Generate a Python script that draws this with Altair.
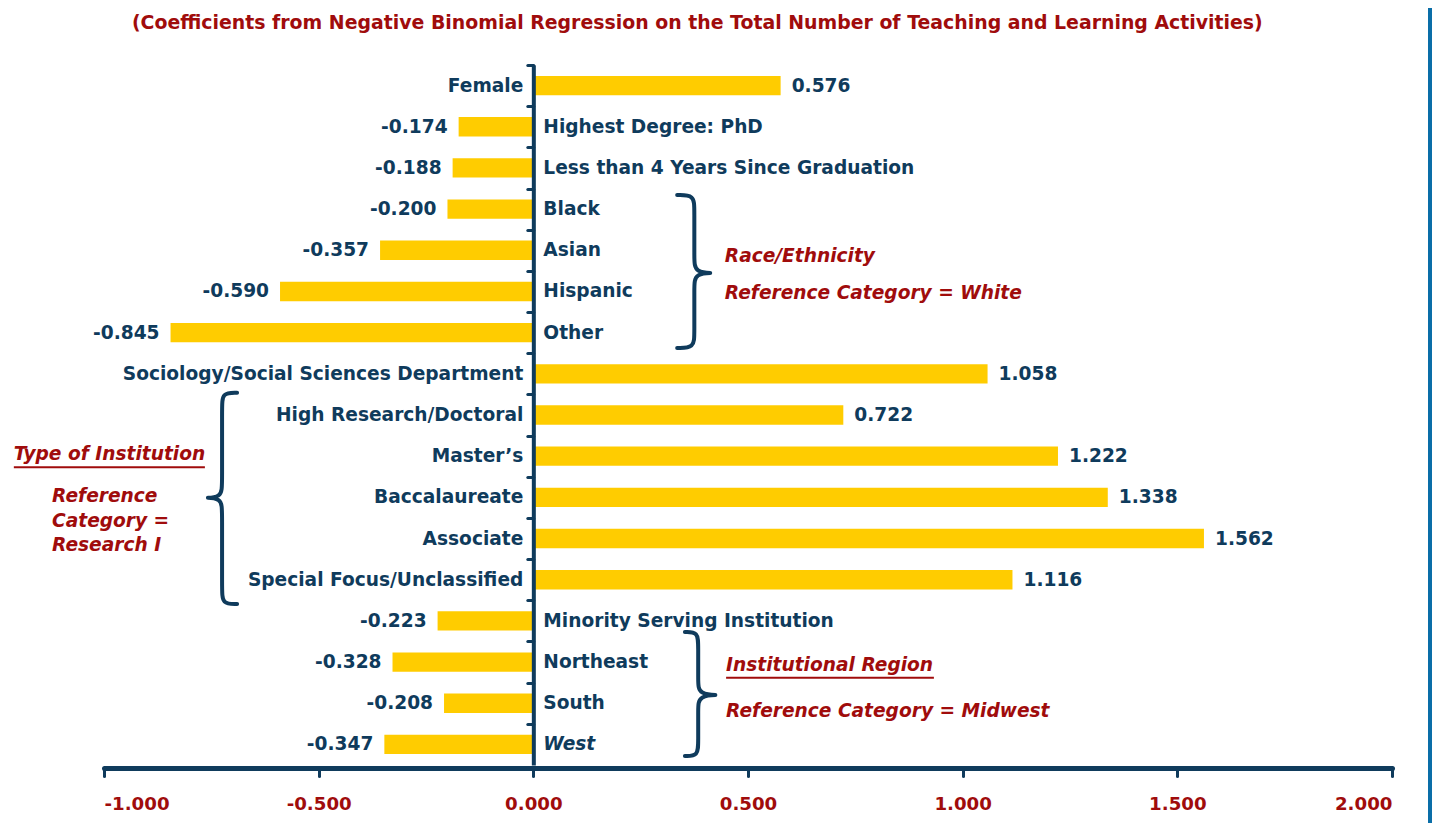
import altair as alt
import pandas as pd

# ---------------- data ----------------
labels = ["Female", "Highest Degree: PhD", "Less than 4 Years Since Graduation",
          "Black", "Asian", "Hispanic", "Other",
          "Sociology/Social Sciences Department",
          "High Research/Doctoral", "Master\u2019s", "Baccalaureate", "Associate",
          "Special Focus/Unclassified", "Minority Serving Institution",
          "Northeast", "South", "West"]
values = [0.576, -0.174, -0.188, -0.200, -0.357, -0.590, -0.845,
          1.058, 0.722, 1.222, 1.338, 1.562, 1.116, -0.223,
          -0.328, -0.208, -0.347]
italic_labels = ["West"]

x_ticks = [-1.0, -0.5, 0.0, 0.5, 1.0, 1.5, 2.0]

title_text = ["(Coefficients from Negative Binomial Regression on the Total "
              "Number of Teaching and Learning Activities)"]
title_x = [0.382]
title_y = [-1.52]

# annotations (x in coefficient units, y in row units)
ann_text = ["Race/Ethnicity", "Reference Category = White",
            "Type of Institution", "Reference", "Category =", "Research I",
            "Institutional Region", "Reference Category = Midwest"]
ann_x = [0.446, 0.446, -1.210, -1.121, -1.121, -1.121, 0.449, 0.449]
ann_y = [4.14, 5.04, 8.95, 9.97, 10.57, 11.15, 14.07, 15.19]

# underlines of the two group headings
ul_x = [-1.210, 0.449]
ul_x2 = [-0.765, 0.933]
ul_y = [9.27, 14.38]

# curly braces: end x, spine x, tip x, top y, middle y, bottom y
brace_end = [0.335, -0.690, 0.353]
brace_spine = [0.375, -0.725, 0.384]
brace_tip = [0.412, -0.758, 0.424]
brace_top = [2.66, 7.46, 13.27]
brace_mid = [4.55, 10.01, 14.80]
brace_bot = [6.37, 12.59, 16.28]
brace_r = 0.35

# ---------------- style ----------------
NAVY = "#0F3B5C"
RED = "#A00C0C"
GOLD = "#FFCC00"
FONT = "DejaVu Sans"
FS = 18.6
W, H = 1288, 700

df = pd.DataFrame({
    "label": labels,
    "value": values,
    "row": list(range(len(labels))),
    "vtext": [f"{v:.3f}" for v in values],
    "ital": [l in italic_labels for l in labels],
})

ann = pd.DataFrame({"text": ann_text, "x": ann_x, "y": ann_y})
ul = pd.DataFrame({"x": ul_x, "x2": ul_x2, "y": ul_y})
ttl = pd.DataFrame({"text": title_text, "x": title_x, "y": title_y})

rows = []
for b in range(len(brace_end)):
    e, s, t = brace_end[b], brace_spine[b], brace_tip[b]
    a, m, bt = brace_top[b], brace_mid[b], brace_bot[b]
    tt = s + 1.5 * (t - s)
    pts = [(e, a), (s, a), (s, a + brace_r), (s, m - brace_r), (s, m),
           (tt, m), (s, m), (s, m + brace_r), (s, bt - brace_r), (s, bt), (e, bt)]
    for i, (px, py) in enumerate(pts):
        rows.append({"b": b, "i": i, "x": px, "y": py})
braces = pd.DataFrame(rows)

x_scale = alt.Scale(domain=[-1, 2], nice=False, zero=False)
y_scale = alt.Scale(domain=[-0.5, 16.5], reverse=True, nice=False, zero=False)

x_axis = alt.Axis(values=x_ticks, format=".3f",
                  labelExpr="replace(datum.label, '\u2212', '-')",
                  title=None, grid=False, domainColor=NAVY, domainWidth=5,
                  domainCap="round", tickColor=NAVY, tickWidth=3, tickSize=8,
                  tickCap="round", labelColor=RED, labelFont=FONT,
                  labelFontWeight="bold", labelFontSize=18.2, labelPadding=19,
                  offset=3, zindex=1)
y_axis = alt.Axis(values=[i - 0.5 for i in range(17)], labels=False, title=None,
                  grid=False, domainColor=NAVY, domainWidth=4, tickColor=NAVY,
                  tickWidth=3, tickSize=6, tickCap="round", offset=-W / 3,
                  zindex=1)

base = alt.Chart(df).transform_calculate(
    zero="0", y0="datum.row - 0.235", y1="datum.row + 0.235")

bars = base.mark_rect(color=GOLD).encode(
    x=alt.X("zero:Q", scale=x_scale, axis=x_axis),
    x2="value:Q",
    y=alt.Y("y0:Q", scale=y_scale, axis=y_axis),
    y2="y1:Q",
)

txt = dict(font=FONT, fontWeight="bold", fontSize=FS, color=NAVY, baseline="middle")

cat_pos = base.transform_filter("datum.value > 0").mark_text(
    align="right", dx=-10, **txt).encode(
    x="zero:Q", y="row:Q", text="label:N")
cat_neg = base.transform_filter("datum.value < 0 && !datum.ital").mark_text(
    align="left", dx=10, **txt).encode(
    x="zero:Q", y="row:Q", text="label:N")
cat_neg_it = base.transform_filter("datum.value < 0 && datum.ital").mark_text(
    align="left", dx=10, fontStyle="italic", **txt).encode(
    x="zero:Q", y="row:Q", text="label:N")

val_pos = base.transform_filter("datum.value > 0").mark_text(
    align="left", dx=11, **txt).encode(
    x="value:Q", y="row:Q", text="vtext:N")
val_neg = base.transform_filter("datum.value < 0").mark_text(
    align="right", dx=-11, **txt).encode(
    x="value:Q", y="row:Q", text="vtext:N")

notes = alt.Chart(ann).mark_text(
    align="left", baseline="middle", font=FONT, fontWeight="bold",
    fontStyle="italic", fontSize=FS, color=RED).encode(
    x="x:Q", y="y:Q", text="text:N")

title_mark = alt.Chart(ttl).mark_text(
    align="center", baseline="middle", font=FONT, fontWeight="bold",
    fontSize=18.9, color=RED).encode(
    x="x:Q", y="y:Q", text="text:N")

underline = alt.Chart(ul).mark_rule(color=RED, strokeWidth=2).encode(
    x="x:Q", x2="x2:Q", y="y:Q")

brace_lines = alt.Chart(braces).mark_line(
    color=NAVY, strokeWidth=4, interpolate="basis", strokeCap="round",
    strokeJoin="round").encode(
    x="x:Q", y="y:Q", detail="b:N", order="i:Q")

border = alt.Chart(df).mark_rule(color="#0A6EA8", strokeWidth=3).encode(
    x=alt.value(1326), y=alt.value(-57), y2=alt.value(H + 58))

chart = alt.layer(
    bars, brace_lines, underline, cat_pos, cat_neg, cat_neg_it,
    val_pos, val_neg, notes, title_mark, border,
).properties(
    width=W, height=H,
    background="white",
    autosize=alt.AutoSizeParams(type="none"),
    padding={"left": 96, "top": 57, "right": 40, "bottom": 58},
).configure_view(strokeWidth=0, stroke="transparent")

chart.save("out.html", embed_options={"renderer": "svg", "actions": False})
